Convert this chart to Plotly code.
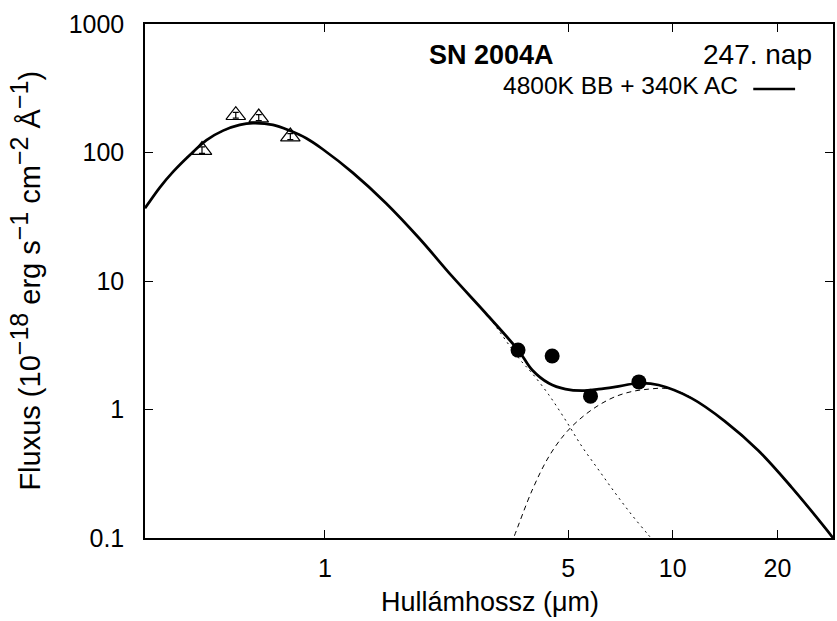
import plotly.graph_objects as go

# ---- data ----
# optical photometry (open triangles)
opt_wl = [0.443, 0.554, 0.645, 0.795]
opt_flux = [104.5, 195, 187, 133]
opt_err = [6, 10, 10, 7]

# Spitzer IRAC photometry (filled circles)
ir_wl = [3.59, 4.50, 5.80, 7.99]
ir_flux = [2.90, 2.61, 1.27, 1.64]
ir_err = [0.25, 0.2, 0.12, 0.15]

# total model: 4800K BB + 340K AC (solid)
tot_wl = [0.3037, 0.3353, 0.3661, 0.4088, 0.4564, 0.5093, 0.5686, 0.6209, 0.7086,
          0.7910, 0.8833, 0.9856, 1.201, 1.498, 1.866, 2.325, 2.899, 3.611, 3.943,
          4.402, 4.915, 5.484, 6.124, 6.838, 7.976, 9.10, 11.34, 14.13, 17.61,
          21.94, 27.35, 28.9]
tot_flux = [36.8, 53.6, 71.0, 95.7, 125, 148, 164, 169, 164, 148, 129, 106, 69.7,
            40.3, 21.5, 10.8, 5.61, 2.85, 2.03, 1.60, 1.44, 1.40, 1.44, 1.50, 1.60,
            1.55, 1.22, 0.809, 0.480, 0.249, 0.121, 0.100]

# hot component, 4800 K blackbody (dotted)
hot_wl = [0.3037, 0.3661, 0.4564, 0.5686, 0.6209, 0.7086, 0.8833, 1.201, 1.498,
          1.866, 2.325, 2.899, 3.611, 3.943, 4.402, 4.915, 5.484, 6.124, 6.838,
          7.628, 8.425, 8.80]
hot_flux = [36.8, 71.0, 125, 164, 169, 164, 129, 69.7, 40.3, 21.5, 10.8, 5.61,
            2.50, 1.91, 1.30, 0.828, 0.514, 0.338, 0.223, 0.151, 0.109, 0.095]

# cool component, 340 K amorphous carbon (dashed)
cool_wl = [3.425, 3.494, 3.943, 4.402, 4.915, 5.484, 6.124, 6.838, 7.628, 8.52,
           9.51, 10.61, 11.85, 14.13, 17.61, 21.94, 27.35, 28.9]
cool_flux = [0.090, 0.102, 0.236, 0.430, 0.653, 0.870, 1.08, 1.26, 1.38, 1.44,
             1.46, 1.35, 1.14, 0.797, 0.473, 0.245, 0.119, 0.0985]

x_tickvals = [1, 5, 10, 20]
x_ticktext = ["1", "5", "10", "20"]
y_tickvals = [0.1, 1, 10, 100, 1000]
y_ticktext = ["0.1", "1", "10", "100", "1000"]

FONT = "Liberation Sans, Arial, Helvetica, sans-serif"
FS = 25

fig = go.Figure()

fig.add_trace(go.Scatter(x=hot_wl, y=hot_flux, mode="lines", line_shape="spline",
                         line=dict(color="black", width=1, dash="2px,4px"),
                         showlegend=False, hoverinfo="skip"))
fig.add_trace(go.Scatter(x=cool_wl, y=cool_flux, mode="lines", line_shape="spline",
                         line=dict(color="black", width=1, dash="5px,4px"),
                         showlegend=False, hoverinfo="skip"))
fig.add_trace(go.Scatter(x=tot_wl, y=tot_flux, mode="lines", line_shape="spline",
                         line=dict(color="black", width=2.7),
                         name="4800K BB + 340K AC", showlegend=False))
fig.add_trace(go.Scatter(x=opt_wl, y=opt_flux, mode="markers",
                         marker=dict(symbol="triangle-up-open", size=17, color="black",
                                     line=dict(width=1.2, color="black")),
                         error_y=dict(type="data", array=opt_err, color="black",
                                      thickness=1.2, width=3),
                         showlegend=False))
fig.add_trace(go.Scatter(x=ir_wl, y=ir_flux, mode="markers",
                         marker=dict(symbol="circle", size=15, color="black"),
                         error_y=dict(type="data", array=ir_err, color="#777777",
                                      thickness=1, width=2),
                         showlegend=False))

axis_common = dict(showline=True, linecolor="black", linewidth=1.5, mirror="ticks",
                   ticks="inside", ticklen=8, tickwidth=1.2, tickcolor="black",
                   showgrid=False, zeroline=False,
                   tickfont=dict(family=FONT, size=FS, color="black"))

fig.update_xaxes(type="log", range=[-0.5175, 1.4607], tickvals=x_tickvals,
                 ticktext=x_ticktext, ticklabelstandoff=7, **axis_common)
fig.update_yaxes(type="log", range=[-1, 3], tickvals=y_tickvals,
                 ticktext=y_ticktext, ticklabelstandoff=14, **axis_common)

SUP = '<sup><span style="font-size:25px">{}</span></sup>'
ylabel = ("Fluxus (10" + SUP.format("−18") + " erg s" + SUP.format("−1") +
          " cm" + SUP.format("−2") + " Å" + SUP.format("−1") + ")")

fig.update_layout(
    width=837, height=621, autosize=False,
    margin=dict(l=145, r=2, t=24, b=83),
    paper_bgcolor="white", plot_bgcolor="white",
    showlegend=False,
    annotations=[
        dict(text="Hullámhossz (μm)", xref="paper", yref="paper", x=0.501, y=-0.1245,
             showarrow=False, font=dict(family=FONT, size=27, color="black"),
             xanchor="center", yanchor="middle"),
        dict(text=ylabel, xref="paper", yref="paper", x=-0.175, y=0.5, textangle=-90,
             showarrow=False, font=dict(family=FONT, size=29, color="black"),
             xanchor="center", yanchor="middle"),
        dict(text="<b>SN 2004A</b>", xref="paper", yref="paper", x=0.503, y=0.9397,
             showarrow=False, font=dict(family=FONT, size=27, color="black"),
             xanchor="center", yanchor="middle"),
        dict(text="247. nap", xref="paper", yref="paper", x=0.972, y=0.9397,
             showarrow=False, font=dict(family=FONT, size=28, color="black"),
             xanchor="right", yanchor="middle"),
        dict(text="4800K BB + 340K AC", xref="paper", yref="paper", x=0.8655, y=0.8813,
             showarrow=False, font=dict(family=FONT, size=24.5, color="black"),
             xanchor="right", yanchor="middle"),
    ],
    shapes=[dict(type="line", xref="paper", yref="paper", x0=0.8841, x1=0.9449,
                 y0=0.8735, y1=0.8735, line=dict(color="black", width=2.7))],
)

fig.write_html("out.html", config={"displayModeBar": False},
               post_script="document.body.style.margin='0px';document.body.style.padding='0px';")
